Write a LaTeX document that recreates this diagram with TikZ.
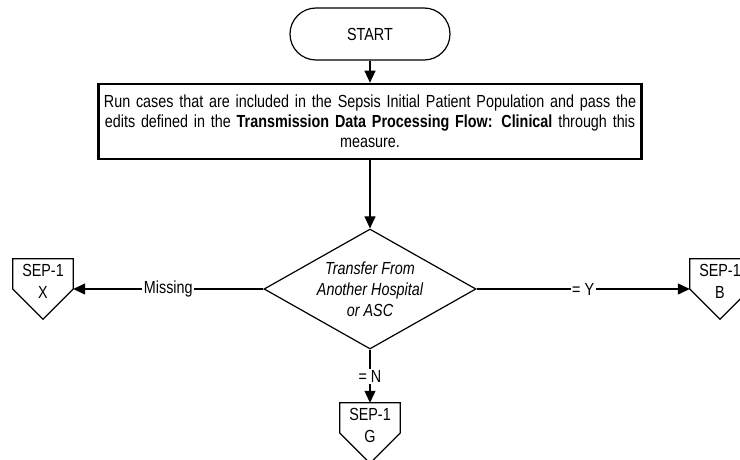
\documentclass[tikz,border=0pt]{standalone}
\usepackage{fontspec}
\setmainfont{Liberation Sans}[FakeStretch=0.82]
\usetikzlibrary{arrows.meta,shapes.geometric}
\begin{document}
\begin{tikzpicture}[x=1pt,y=-1pt,
  every node/.style={font=\fontsize{17.5}{20}\selectfont},
  startbox/.style={draw, line width=1.2pt, rounded corners=26pt, minimum width=160pt, minimum height=52pt, inner sep=0pt},
  procbox/.style={draw, line width=2.6pt, minimum width=543pt, minimum height=75pt, text width=535pt, align=center, inner sep=0pt},
  decision/.style={draw, diamond, line width=1.2pt, minimum width=212pt, minimum height=120pt, aspect=1.77, inner sep=-2pt, align=center, font=\fontsize{17.5}{21}\selectfont\itshape},
  flow/.style={line width=1.2pt, -{Triangle[length=12pt,width=11pt]}},
  lbl/.style={fill=white, inner sep=1.5pt},
  pentarea/.style={minimum width=60pt, minimum height=60pt, inner sep=0pt},
  penttext/.style={align=center, inner sep=0pt, font=\fontsize{17.5}{22}\selectfont},
  pentline/.style={line width=1.2pt}
]
\clip (0,0) rectangle (740,460);
\node[startbox] (start) at (370,34) {START};
\node[procbox] (proc) at (370,121.5) {Run cases that are included in the Sepsis Initial Patient Population and pass the\\
edits defined in the \textbf{Transmission Data Processing Flow: Clinical} through this\\
measure.};
\node[decision] (dec) at (370,289) {Transfer From\\Another Hospital\\or ASC};

\node[pentarea] (sepX) at (43,289) {};
\node[pentarea] (sepB) at (720,289) {};
\node[pentarea] (sepG) at (370,433) {};
\foreach \p in {sepX,sepB,sepG}{
  \draw[pentline] (\p.north west) -- (\p.north east) -- (\p.east) -- (\p.south) -- (\p.west) -- cycle;
}
\node[penttext] (sepXt) at (43,281) {SEP-1\\X};
\node[penttext] (sepBt) at (720,281) {SEP-1\\B};
\node[penttext] (sepGt) at (370,425) {SEP-1\\G};

\draw[flow] (start) -- (proc);
\draw[flow] (proc) -- (dec);
\draw[flow] (dec) -- node[lbl] {Missing} (sepX.east);
\draw[flow] (dec) -- node[lbl] {= Y} (sepB.west);
\draw[flow] (dec) -- node[lbl] {= N} (sepG.north);
\end{tikzpicture}
\end{document}
